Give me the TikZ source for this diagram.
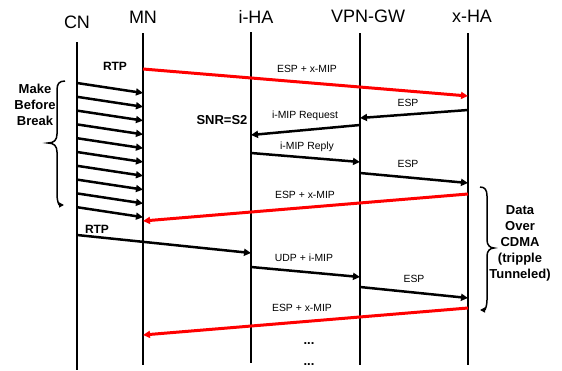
\documentclass[tikz,border=0pt]{standalone}
\usepackage{fontspec}
\setmainfont{Liberation Sans}
\usetikzlibrary{arrows.meta}

\definecolor{tunnelred}{RGB}{255,0,0}

\tikzset{
	head/.style={font=\fontsize{18}{21}\selectfont},
	life/.style={line width=2pt},
	msg/.style={line width=2.5pt,-{Triangle[length=7pt,width=7pt]}},
	tunnel/.style={msg,draw=tunnelred,line width=3pt},
	lbl/.style={font=\fontsize{10.4}{12}\selectfont},
	blbl/.style={font=\fontsize{13}{16}\selectfont\bfseries,align=center},
	brc/.style={line width=1.5pt},
}

\begin{document}
\begin{tikzpicture}[x=1pt,y=-1pt]
	\useasboundingbox (0,0) rectangle (562,370);

	\node[head] (CN) at (77,22) {CN};
	\node[head] (MN) at (143,17) {MN};
	\node[head] (iHA) at (256,17) {i-HA};
	\node[head] (VPN) at (368,16) {VPN-GW};
	\node[head] (xHA) at (472,16) {x-HA};

	\coordinate (cn) at (77,42);
	\coordinate (mn) at (143,33);
	\coordinate (iha) at (251,32);
	\coordinate (vpn) at (360,33);
	\coordinate (xha) at (468,33);

	\draw[life] (cn) -- (cn |- 0,370);
	\draw[life] (mn) -- (mn |- 0,365);
	\draw[life] (iha) -- (iha |- 0,363);
	\draw[life] (vpn) -- (vpn |- 0,365);
	\draw[life] (xha) -- (xha |- 0,365);

	% first path, through x-HA
	\node[blbl,font=\fontsize{12}{14}\selectfont\bfseries] (RTP1) at (115,66) {RTP};
	\draw[tunnel] (mn |- 0,69) -- (xha |- 0,96);
	\node[lbl] (Tun1) at (307,69) {ESP + x-MIP};

	\foreach \i in {0,...,9}
		\draw[msg] (cn |- 0,{83+13.8*\i}) -- (mn |- 0,{93+13.8*\i});

	\node[blbl] (MBB) at (35,105) {Make\\Before\\Break};
	\draw[brc,{Triangle[length=5pt,width=5pt]}-] (64,205) .. controls (59,205) and (57,201) .. (57,195)
		-- (57,152) .. controls (57,146) and (54,143) .. (48,143)
		.. controls (54,143) and (57,140) .. (57,134)
		-- (57,90) .. controls (57,84) and (59,81) .. (65,81);

	% registration with i-HA
	\draw[msg] (xha |- 0,110) -- (vpn |- 0,118);
	\node[lbl] (Esp1) at (408,103) {ESP};

	\draw[msg] (vpn |- 0,125) -- (iha |- 0,135);
	\node[lbl] (Req) at (305,116) {i-MIP Request};
	\node[blbl] (SNR) at (222,120) {SNR=S2};

	\draw[msg] (iha |- 0,153) -- (vpn |- 0,162);
	\node[lbl] (Rep) at (307,147) {i-MIP Reply};

	\draw[msg] (vpn |- 0,173) -- (xha |- 0,183);
	\node[lbl] (Esp2) at (408,164) {ESP};

	\draw[tunnel] (xha |- 0,194) -- (mn |- 0,221);
	\node[lbl] (Tun2) at (305,195) {ESP + x-MIP};

	% triple tunnel over CDMA
	\node[blbl,font=\fontsize{12}{14}\selectfont\bfseries] (RTP2) at (97,229) {RTP};
	\draw[msg] (cn |- 0,235) -- (iha |- 0,253);

	\draw[msg] (iha |- 0,267) -- (vpn |- 0,277);
	\node[lbl] (Udp) at (304,258) {UDP + i-MIP};

	\draw[msg] (vpn |- 0,287) -- (xha |- 0,298);
	\node[lbl] (Esp3) at (414,279) {ESP};

	\draw[tunnel] (xha |- 0,308) -- (mn |- 0,335);
	\node[lbl] (Tun3) at (302,308) {ESP + x-MIP};

	\node[blbl] (Dots1) at (309,344) {...};
	\node[blbl] (Dots2) at (309,365) {...};

	\node[blbl] (CDMA) at (520,243) {Data\\Over\\CDMA\\(tripple\\Tunneled)};
	\draw[brc,-{Triangle[length=5pt,width=5pt]}] (480,187) .. controls (485,187) and (487,190) .. (487,196)
		-- (487,240) .. controls (487,245) and (490,248) .. (494,248)
		.. controls (490,248) and (487,251) .. (487,256)
		-- (487,300) .. controls (487,306) and (485,310) .. (480,310);
\end{tikzpicture}
\end{document}
